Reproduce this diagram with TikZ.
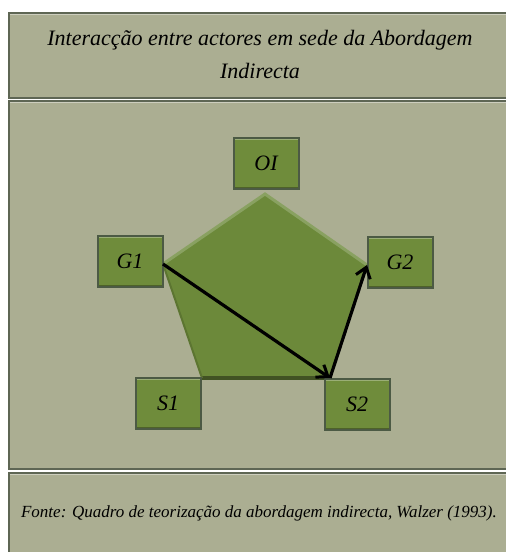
\documentclass[tikz,border=0pt]{standalone}
\usepackage{fontspec}
\setmainfont{Liberation Serif}
\usepackage{tikz}
\usetikzlibrary{arrows.meta}

\definecolor{panelfill}{HTML}{ABAE92}
\definecolor{paneldraw}{HTML}{5E6654}
\definecolor{actorfill}{HTML}{6F8C3B}
\definecolor{actordraw}{HTML}{4C5A44}
\definecolor{pentafill}{HTML}{6C893A}

\tikzset{
	panel/.style={rectangle,draw=paneldraw,fill=panelfill,line width=2pt,anchor=north west,
		path picture={\draw[line width=4pt,panelfill!60!white]
			(path picture bounding box.north west) -- (path picture bounding box.north east);}},
	actor/.style={rectangle,draw=actordraw,fill=actorfill,line width=2pt,
		minimum width=65pt,minimum height=51pt,font=\fontsize{22}{24}\selectfont\itshape,
		path picture={\draw[line width=5pt,actorfill!70!white]
			(path picture bounding box.north west) -- (path picture bounding box.north east);
			\draw[line width=4pt,actorfill!70!black]
			(path picture bounding box.south west) -- (path picture bounding box.south east);}},
	rel/.style={line width=3.2pt,-{Straight Barb[length=10pt,width=15pt,line width=3pt]}}
}

\begin{document}
\begin{tikzpicture}[x=1pt,y=-1pt]

	\useasboundingbox (0,0) rectangle (506,552);
	\fill[white] (0,0) rectangle (506,552);

	\node[panel,minimum width=505pt,minimum height=85pt] (title) at (8,12) {};
	\node[panel,minimum width=505pt,minimum height=368pt] (frame) at (8,100) {};
	\node[panel,minimum width=505pt,minimum height=90pt] (source) at (8,472) {};

	\node[align=center,font=\fontsize{22}{33}\selectfont\itshape] (titletext) at (260,54)
		{Interacção entre actores em sede da Abordagem\\Indirecta};
	\node[font=\fontsize{17}{18}\selectfont\itshape] (sourcetext) at (259,513)
		{Fonte: Quadro de teorização da abordagem indirecta, Walzer (1993).};

	\coordinate (ptop) at (265,194);
	\coordinate (pleft) at (163,264);
	\coordinate (pright) at (367,265);
	\coordinate (pbl) at (202,378);
	\coordinate (pbr) at (330,378);

	\fill[pentafill] (ptop) -- (pright) -- (pbr) -- (pbl) -- (pleft) -- cycle;
	\draw[line width=3pt,pentafill!80!white] (pleft) -- (ptop) -- (pright);
	\draw[line width=4pt,pentafill!60!black] (pbl) -- (pbr);
	\draw[line width=2pt,pentafill!85!black] (pleft) -- (pbl) (pbr) -- (pright);

	\node[actor] (oi) at (266,163) {OI};
	\node[actor] (g1) at (130,261) {G1};
	\node[actor] (g2) at (400,262) {G2};
	\node[actor] (s1) at (168,403) {S1};
	\node[actor] (s2) at (357,404) {S2};

	\draw[rel] (pleft) -- (pbr);
	\draw[rel] (pbr) -- (pright);

\end{tikzpicture}
\end{document}
